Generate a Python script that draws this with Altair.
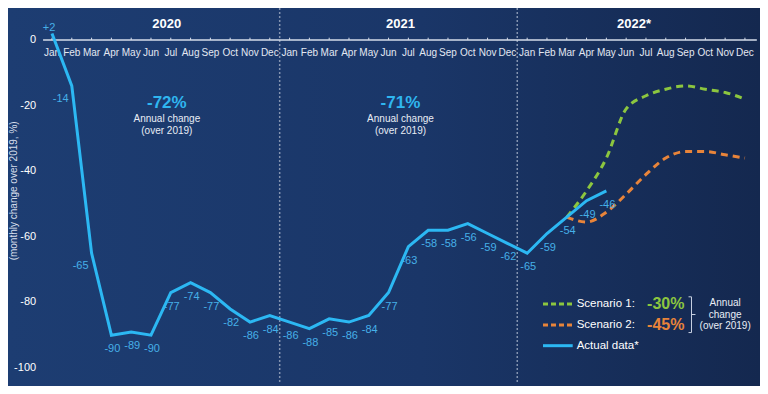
import altair as alt
import pandas as pd

# ---------------- data ----------------
months = ["Jan", "Feb", "Mar", "Apr", "May", "Jun", "Jul", "Aug", "Sep", "Oct", "Nov", "Dec"]
years = ["2020", "2021", "2022*"]

actual = [2, -14, -65, -90, -89, -90, -77, -74, -77, -82, -86, -84,
          -86, -88, -85, -86, -84, -77, -63, -58, -58, -56, -59, -62,
          -65, -59, -54, -49, -46]
actual_labels = ["+2", "-14", "-65", "-90", "-89", "-90", "-77", "-74", "-77", "-82", "-86", "-84",
                 "-86", "-88", "-85", "-86", "-84", "-77", "-63", "-58", "-58", "-56", "-59", "-62",
                 "-65", "-59", "-54", "-49", "-46"]
label_place = ["above", "left", "left"] + ["below"] * 26

scen_start = 26  # Mar 2022
scenario1 = [-54, -46, -36, -21, -17, -15, -14, -15, -16, -18]
scenario2 = [-54, -55.5, -52.5, -47, -41, -36, -34, -34, -35, -36]

yticks = [0, -20, -40, -60, -80, -100]
annual_text = ["-72%", "-71%"]

# ---------------- tables ----------------
df_act = pd.DataFrame({"i": list(range(len(actual))), "v": actual,
                       "lab": actual_labels, "place": label_place})
df_s = pd.concat([
    pd.DataFrame({"i": list(range(scen_start, scen_start + len(scenario1))), "v": scenario1, "s": "Scenario 1"}),
    pd.DataFrame({"i": list(range(scen_start, scen_start + len(scenario2))), "v": scenario2, "s": "Scenario 2"}),
])
df_months = pd.DataFrame({"i": list(range(36)), "m": months * 3})
df_years = pd.DataFrame({"i": [5.8, 17.6, 29.4], "y": years})
df_yt = pd.DataFrame({"v": yticks, "t": [str(t) for t in yticks]})
df_vl = pd.DataFrame({"i": [11.5, 23.5]})

W, H = 752, 378
XD = [-2.222, 35.76]
YD = [-105.49, 9.756]
FONT = "Liberation Sans"

xs = alt.Scale(domain=XD, nice=False, zero=False)
ys = alt.Scale(domain=YD, nice=False, zero=False)
X = alt.X("i:Q", scale=xs, axis=None)
Y = alt.Y("v:Q", scale=ys, axis=None)

bg = alt.Chart(pd.DataFrame({"a": [0]})).mark_rect(
    fill=alt.Gradient(gradient="linear", x1=0, x2=1, y1=0, y2=0,
                      stops=[alt.GradientStop(color="#1d3d72", offset=0),
                             alt.GradientStop(color="#1a3668", offset=0.55),
                             alt.GradientStop(color="#14284f", offset=1)])
).encode(x=alt.value(0), x2=alt.value(W), y=alt.value(0), y2=alt.value(H))

vlines = alt.Chart(df_vl).mark_rule(color="#8494b0", strokeDash=[2, 2], strokeWidth=1.5).encode(
    x=X, y=alt.value(0), y2=alt.value(H - 2))

axis_line = alt.Chart(pd.DataFrame({"i": [-0.45], "i2": [35.6], "v": [0]})).mark_rule(
    color="#d5dcea", strokeWidth=1.5).encode(x=X, x2="i2:Q", y=Y)

ticks = alt.Chart(df_months).transform_calculate(v0="0", v1="0.7").mark_rule(
    color="#d5dcea", strokeWidth=1).encode(x=X, y=alt.Y("v0:Q", scale=ys, axis=None), y2="v1:Q")

month_txt = alt.Chart(df_months).transform_calculate(v="-3.9").mark_text(
    color="#e3e8f2", fontSize=10, font=FONT, baseline="middle").encode(x=X, y=Y, text="m:N")

year_txt = alt.Chart(df_years).transform_calculate(v="5.0").mark_text(
    color="#ffffff", fontSize=13, fontWeight="bold", font=FONT, baseline="middle").encode(x=X, y=Y, text="y:N")

ytick_txt = alt.Chart(df_yt).transform_calculate(i="-0.8").mark_text(
    color="#ffffff", fontSize=11, font=FONT, align="right", baseline="middle").encode(x=X, y=Y, text="t:N")

ytitle = alt.Chart(pd.DataFrame({"i": [-1.9], "v": [-46], "t": ["(monthly change over 2019, %)"]})).mark_text(
    color="#d8dfec", fontSize=10, font=FONT, angle=270, baseline="middle").encode(x=X, y=Y, text="t:N")

act_line = alt.Chart(df_act).mark_line(color="#2cb8f3", strokeWidth=3).encode(x=X, y=Y)

s1 = alt.Chart(df_s).transform_filter("datum.s == 'Scenario 1'").mark_line(
    color="#8cc63f", strokeWidth=3, strokeDash=[7, 5], interpolate="monotone").encode(x=X, y=Y)
s2 = alt.Chart(df_s).transform_filter("datum.s == 'Scenario 2'").mark_line(
    color="#e8843a", strokeWidth=3, strokeDash=[7, 5], interpolate="monotone").encode(x=X, y=Y)

LAB_COL = "#46b0e8"
lab_below = alt.Chart(df_act).transform_filter("datum.place == 'below'").mark_text(
    color=LAB_COL, fontSize=11, font=FONT, dy=14, dx=1, baseline="middle").encode(x=X, y=Y, text="lab:N")
lab_left = alt.Chart(df_act).transform_filter("datum.place == 'left'").mark_text(
    color=LAB_COL, fontSize=11, font=FONT, dy=13, dx=-11, baseline="middle").encode(x=X, y=Y, text="lab:N")
lab_above = alt.Chart(df_act).transform_filter("datum.place == 'above'").mark_text(
    color=LAB_COL, fontSize=11, font=FONT, dy=-5, dx=-3, baseline="middle").encode(x=X, y=Y, text="lab:N")

# annual change annotations
ann_df = pd.DataFrame({"i": [5.8, 17.6], "t": annual_text})
ann_big = alt.Chart(ann_df).transform_calculate(v="-19.1").mark_text(
    color="#2fb6f0", fontSize=17, fontWeight="bold", font=FONT, baseline="middle").encode(x=X, y=Y, text="t:N")
ann_l1 = alt.Chart(ann_df).transform_calculate(v="-24.2", s="'Annual change'").mark_text(
    color="#e8edf5", fontSize=10, font=FONT, baseline="middle").encode(x=X, y=Y, text="s:N")
ann_l2 = alt.Chart(ann_df).transform_calculate(v="-27.8", s="'(over 2019)'").mark_text(
    color="#e8edf5", fontSize=10, font=FONT, baseline="middle").encode(x=X, y=Y, text="s:N")

# legend (drawn in data space, bottom right)
leg_lines = pd.DataFrame({
    "i": [24.8, 26.3, 24.8, 26.3, 24.8, 26.3],
    "v": [-80.5, -80.5, -86.9, -86.9, -93.2, -93.2],
    "k": ["a", "a", "b", "b", "c", "c"],
})
leg_g = alt.Chart(leg_lines).transform_filter("datum.k == 'a'").mark_line(
    color="#8cc63f", strokeWidth=3, strokeDash=[5, 3]).encode(x=X, y=Y)
leg_o = alt.Chart(leg_lines).transform_filter("datum.k == 'b'").mark_line(
    color="#e8843a", strokeWidth=3, strokeDash=[5, 3]).encode(x=X, y=Y)
leg_c = alt.Chart(leg_lines).transform_filter("datum.k == 'c'").mark_line(
    color="#2cb8f3", strokeWidth=3).encode(x=X, y=Y)
leg_txt = alt.Chart(pd.DataFrame({"i": [26.5] * 3, "v": [-80.5, -86.9, -93.2],
                                  "t": ["Scenario 1:", "Scenario 2:", "Actual data*"]})).mark_text(
    color="#ffffff", fontSize=11.5, font=FONT, align="left", baseline="middle").encode(x=X, y=Y, text="t:N")
leg_pct = pd.DataFrame({"i": [31.0, 31.0], "v": [-80.5, -86.9], "t": ["-30%", "-45%"], "k": ["a", "b"]})
pct_g = alt.Chart(leg_pct).transform_filter("datum.k == 'a'").mark_text(
    color="#8cc63f", fontSize=16, fontWeight="bold", font=FONT, baseline="middle").encode(x=X, y=Y, text="t:N")
pct_o = alt.Chart(leg_pct).transform_filter("datum.k == 'b'").mark_text(
    color="#e8843a", fontSize=16, fontWeight="bold", font=FONT, baseline="middle").encode(x=X, y=Y, text="t:N")
bracket = alt.Chart(pd.DataFrame({"i": [32.15, 32.3, 32.3, 32.15], "v": [-78.3, -78.3, -89.2, -89.2],
                                  "o": [0, 1, 2, 3]})).mark_line(
    color="#c9d2e2", strokeWidth=1).encode(x=X, y=Y, order="o:O")
brk_tip = alt.Chart(pd.DataFrame({"i": [32.3], "i2": [32.5], "v": [-83.7]})).mark_rule(
    color="#c9d2e2", strokeWidth=1).encode(x=X, x2="i2:Q", y=Y)
leg_ann = alt.Chart(pd.DataFrame({"i": [34.0] * 3, "v": [-80.3, -83.7, -87.2],
                                  "t": ["Annual", "change", "(over 2019)"]})).mark_text(
    color="#e8edf5", fontSize=10, font=FONT, baseline="middle").encode(x=X, y=Y, text="t:N")

chart = alt.layer(
    bg, vlines, axis_line, ticks, month_txt, year_txt, ytick_txt, ytitle,
    ann_big, ann_l1, ann_l2,
    s1, s2, act_line, lab_below, lab_left, lab_above,
    leg_g, leg_o, leg_c, leg_txt, pct_g, pct_o, bracket, brk_tip, leg_ann,
).properties(
    width=W, height=H,
    autosize=alt.AutoSizeParams(type="none"),
    padding={"left": 0, "top": 0, "right": 0, "bottom": 0},
    background="#1a3668",
).configure_view(stroke=None)

chart.save("out.html", embed_options={"renderer": "svg", "actions": False})
